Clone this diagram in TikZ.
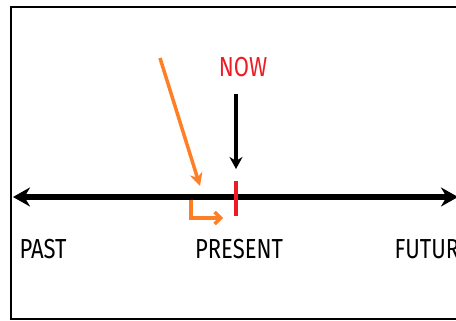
\documentclass[tikz,border=0pt]{standalone}
\usepackage{fontspec}
\setmainfont{Fira Sans}
\usetikzlibrary{arrows.meta}
\definecolor{nowred}{RGB}{237,28,36}
\definecolor{hintorange}{RGB}{255,127,39}
\newcommand{\tall}[1]{\scalebox{1}[1.25]{#1}}
\tikzset{
  label text/.style={font=\fontsize{22}{24}\selectfont},
  timeline/.style={line width=6pt, {Stealth[length=17pt,width=19pt]}-{Stealth[length=17pt,width=19pt]}},
}
\begin{document}
\begin{tikzpicture}[x=1pt, y=-1pt]
    \useasboundingbox (0,0) rectangle (456,321);
    % Frame
    \draw[line width=2.5pt] (11,7) rectangle (480,319);

    % Time line
    \coordinate (left) at (13,197);
    \coordinate (right) at (458,197);
    \draw[timeline] (left) -- (right);

    % Present mark
    \coordinate (tick top) at (236,181);
    \coordinate (tick bot) at (236,216);
    \draw[nowred, line width=4pt] (tick top) -- (tick bot);

    % Labels
    \node[label text] (past) at (43,249) {\tall{PAST}};
    \node[label text] (present) at (239,249) {\tall{PRESENT}};
    \node[label text, anchor=west] (future) at (391,249) {\tall{FUTURE}};
    \node[label text, nowred] (now) at (243,67) {\tall{NOW}};

    % Now arrow
    \coordinate (now top) at (236,94);
    \coordinate (now tip) at (236,169);
    \draw[line width=3.5pt, -{Stealth[length=12pt,width=13pt]}] (now top) -- (now tip);

    % Orange hint arrows
    \coordinate (hint start) at (160,58);
    \coordinate (hint tip) at (200,186);
    \draw[hintorange, line width=3.5pt, -{Stealth[length=13pt,width=13pt]}] (hint start) -- (hint tip);
    \coordinate (bend start) at (191,200);
    \coordinate (bend tip) at (223,218);
    \draw[hintorange, line width=3.5pt, -{Straight Barb[length=6pt,width=12pt]}] (bend start) |- (bend tip);
\end{tikzpicture}
\end{document}
